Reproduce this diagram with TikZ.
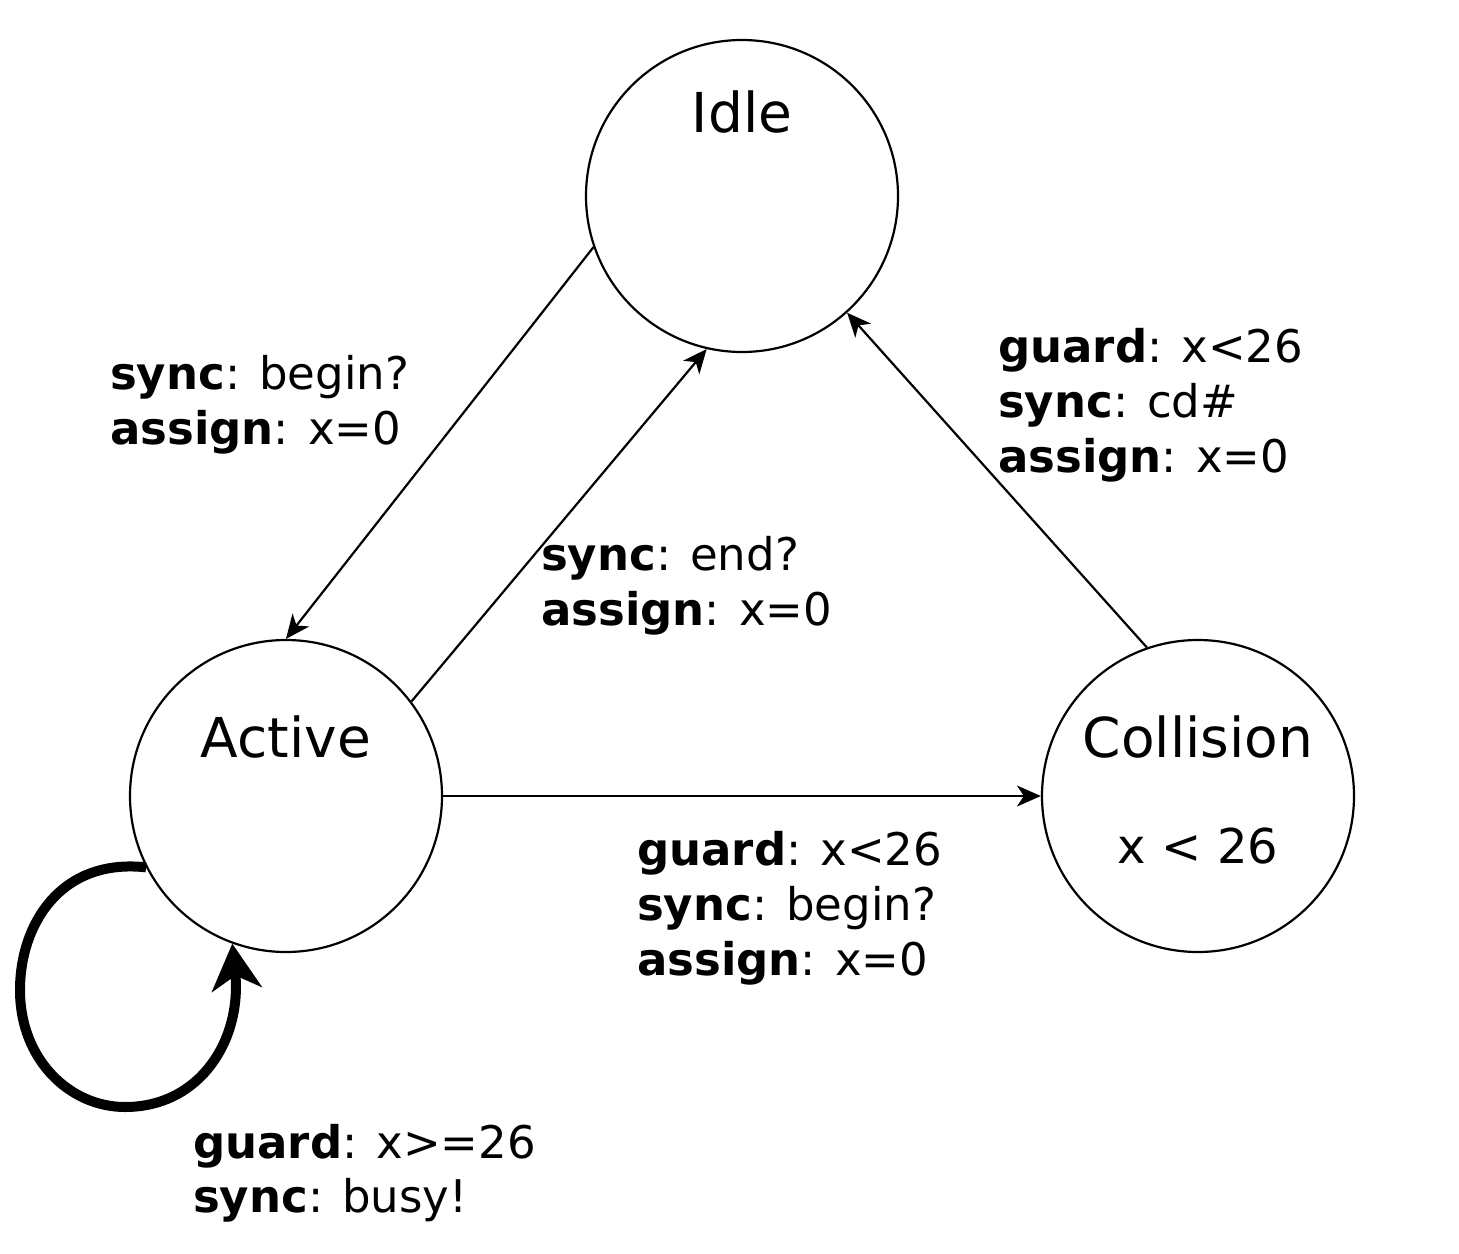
\documentclass[tikz,border=0pt]{standalone}
\usepackage{fontspec}
\setmainfont{DejaVu Sans}
\usetikzlibrary{arrows.meta}
\tikzset{
  state/.style={circle, draw, line width=2.2pt, minimum size=312pt, inner sep=0pt},
  statetext/.style={anchor=base, inner sep=0pt, font=\fontsize{55}{66}\selectfont},
  invtext/.style={anchor=base, inner sep=0pt, font=\fontsize{48}{58}\selectfont},
  lbl/.style={anchor=base west, inner sep=0pt, font=\fontsize{45}{55}\selectfont},
  edge/.style={line width=2.2pt, -{Stealth[length=24pt,width=21pt,inset=7pt]}},
  loopedge/.style={line width=10pt, -{Stealth[length=46pt,width=50pt,inset=14pt]}}
}
\begin{document}
\begin{tikzpicture}[x=1pt,y=-1pt]
\useasboundingbox (0,0) rectangle (1459,1253);
% states
\node[state] (I) at (742,196) {};
\node[state] (A) at (286,796) {};
\node[state] (C) at (1198,796) {};
\node[statetext] (It) at (742,132) {Idle};
\node[statetext] (At) at (286,757) {Active};
\node[statetext] (Ct) at (1198,757) {Collision};
\node[invtext] (Cinv) at (1198,863) {x {\char"3C} 26};
% edges
\draw[edge] (I.199) -- (A.north);
\draw[edge] (A.37) -- (I.257);
\draw[edge] (C.109) -- (I.312);
\draw[edge] (A.east) -- (C.west);
\draw[loopedge] (A.207) .. controls (60,858) and (20,925) .. (20,990)
  .. controls (20,1060) and (70,1107) .. (125,1107)
  .. controls (200,1107) and (242,1040) .. (A.250);
% labels
\node[lbl] (l1a) at (110,389) {\textbf{sync}: begin?};
\node[lbl] (l1b) at (110,444) {\textbf{assign}: x=0};
\node[lbl] (l2a) at (998,362) {\textbf{guard}: x{\char"3C}26};
\node[lbl] (l2b) at (998,417) {\textbf{sync}: cd\#};
\node[lbl] (l2c) at (998,472) {\textbf{assign}: x=0};
\node[lbl] (l3a) at (541,570) {\textbf{sync}: end?};
\node[lbl] (l3b) at (541,625) {\textbf{assign}: x=0};
\node[lbl] (l4a) at (637,865) {\textbf{guard}: x{\char"3C}26};
\node[lbl] (l4b) at (637,920) {\textbf{sync}: begin?};
\node[lbl] (l4c) at (637,975) {\textbf{assign}: x=0};
\node[lbl] (l5a) at (193,1158) {\textbf{guard}: x{\char"3E}=26};
\node[lbl] (l5b) at (193,1212) {\textbf{sync}: busy!};
\end{tikzpicture}
\end{document}
